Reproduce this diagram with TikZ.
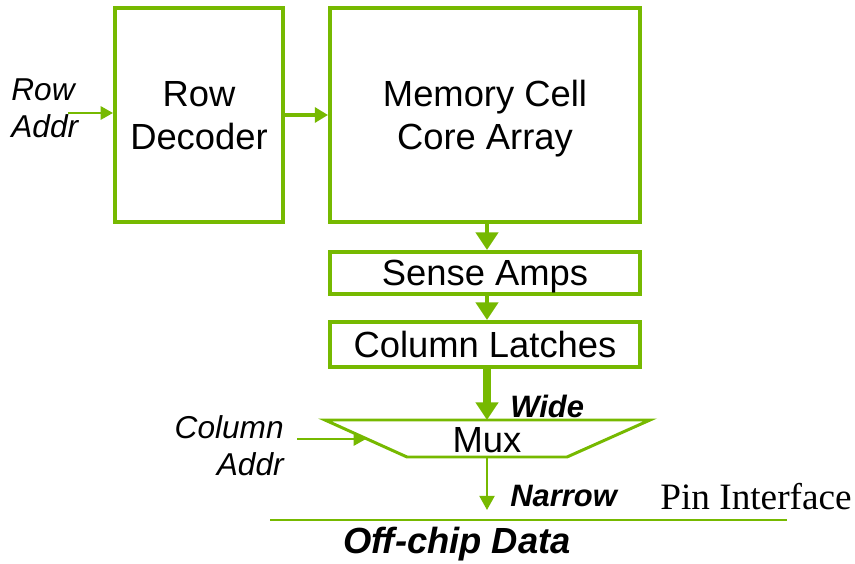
\documentclass[tikz,border=0pt]{standalone}
\usepackage{fontspec}
\setmainfont{Liberation Sans}
\newfontfamily\pinfont{Liberation Serif}
\usetikzlibrary{arrows.meta}
\definecolor{chipgreen}{RGB}{118,185,0}

\begin{document}
\begin{tikzpicture}[x=0.02cm, y=-0.02cm,
		block/.style={draw=chipgreen, line width=2.3pt, inner sep=0pt, align=center, text height=14.5pt, text depth=0pt, font=\fontsize{20.7}{24.8}\selectfont},
		tallblock/.style={block, text height=39.7pt, minimum height=4.28cm},
		sidelabel/.style={inner sep=0pt, font=\fontsize{18}{21}\selectfont\itshape},
		buslabel/.style={inner sep=0pt, anchor=west, font=\fontsize{17.6}{21}\selectfont\bfseries\itshape},
		bigarrow/.style={-{Triangle[width=12.5pt, length=10pt]}, chipgreen},
		thinarrow/.style={-{Triangle[width=7.5pt, length=7pt]}, chipgreen, line width=1.3pt}]
	\useasboundingbox (0,0) rectangle (855,564);

	\node[tallblock, minimum width=3.36cm]	(rowdec) at (199,115) {Row\\Decoder};
	\node[tallblock, minimum width=6.2cm]	(mem) at (485,115) {Memory Cell\\Core Array};
	\node[block, minimum width=6.2cm, minimum height=0.84cm]	(sense) at (485,273) {Sense Amps};
	\node[block, minimum width=6.2cm, minimum height=0.9cm]	(latches) at (485,344.5) {Column Latches};

	% mux
	\node[inner sep=0pt, font=\fontsize{20.7}{24.8}\selectfont]	(mux) at (487,440) {Mux};
	\draw[chipgreen, line width=1.7pt]	(325,420) -- (650,420) -- (567,457) -- (407,457) -- cycle;
	\coordinate (muxin) at (487,420);
	\coordinate (muxout) at (487,457);
	\coordinate (muxleft) at (366,439);

	% address inputs
	\node[sidelabel, anchor=west, align=left]	(rowaddr) at (11,108) {Row\\Addr};
	\node[sidelabel, anchor=east, align=right]	(coladdr) at (284,446) {Column\\Addr};
	\coordinate (rowin) at (68,113);
	\coordinate (colin) at (297,439);
	\draw[thinarrow]	(rowin) -- (rowin -| rowdec.west);
	\draw[thinarrow]	(colin) -- (muxleft);

	% data path
	\draw[-{Triangle[width=8.5pt, length=7.5pt]}, chipgreen, line width=2.3pt]	(rowdec.east) -- (mem.west);
	\draw[bigarrow, line width=2.8pt]	(mem.south -| muxin) -- (sense.north -| muxin);
	\draw[bigarrow, line width=2.8pt]	(sense.south -| muxin) -- (latches.north -| muxin);
	\draw[bigarrow, line width=4.6pt]	(latches.south -| muxin) -- (muxin);
	\coordinate (pins) at (487,510);
	\draw[thinarrow, -{Triangle[width=8.5pt, length=8pt]}]	(muxout) -- (pins);

	\node[buslabel]	(wide) at (510,406) {Wide};
	\node[buslabel]	(narrow) at (510,496) {Narrow};

	% pin interface
	\draw[chipgreen, line width=1.1pt]	(270,520) -- (787,520);
	\node[inner sep=0pt, anchor=west, font=\pinfont\fontsize{21.2}{25}\selectfont]	(pinif) at (660,497) {Pin Interface};
	\node[inner sep=0pt, font=\fontsize{20.7}{25}\selectfont\bfseries\itshape]	(offchip) at (457,544) {Off-chip Data};
\end{tikzpicture}
\end{document}
